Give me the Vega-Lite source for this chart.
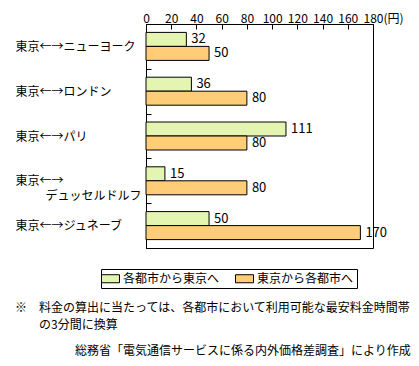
{
  "$schema": "https://vega.github.io/schema/vega-lite/v6.json",
  "width": 227,
  "height": 224,
  "autosize": "none",
  "padding": {"left": 146, "top": 24, "right": 46, "bottom": 118},
  "config": {
    "font": "Noto Sans CJK JP",
    "view": {"stroke": "black", "strokeWidth": 1},
    "axis": {"domainColor": "black", "tickColor": "black", "labelColor": "black", "labelFontSize": 12, "grid": false, "title": null}
  },
  "data": {
    "values": [
      {"city": "東京←→ニューヨーク", "series": "各都市から東京へ", "value": 32},
      {"city": "東京←→ニューヨーク", "series": "東京から各都市へ", "value": 50},
      {"city": "東京←→ロンドン", "series": "各都市から東京へ", "value": 36},
      {"city": "東京←→ロンドン", "series": "東京から各都市へ", "value": 80},
      {"city": "東京←→パリ", "series": "各都市から東京へ", "value": 111},
      {"city": "東京←→パリ", "series": "東京から各都市へ", "value": 80},
      {"city": "東京←→デュッセルドルフ", "series": "各都市から東京へ", "value": 15},
      {"city": "東京←→デュッセルドルフ", "series": "東京から各都市へ", "value": 80},
      {"city": "東京←→ジュネーブ", "series": "各都市から東京へ", "value": 50},
      {"city": "東京←→ジュネーブ", "series": "東京から各都市へ", "value": 170}
    ]
  },
  "encoding": {
    "y": {
      "field": "city", "type": "nominal",
      "sort": ["東京←→ニューヨーク", "東京←→ロンドン", "東京←→パリ", "東京←→デュッセルドルフ", "東京←→ジュネーブ"],
      "scale": {"paddingInner": 0, "paddingOuter": 0},
      "axis": {
        "orient": "left", "labelAlign": "left", "labelPadding": 136, "tickSize": -5, "tickBand": "extent",
        "labelLineHeight": 15, "labelBaseline": "middle",
        "labelExpr": "datum.value == '東京←→デュッセルドルフ' ? ['東京←→', '\u200b　　\u2002デュッセルドルフ'] : datum.label"
      }
    },
    "yOffset": {
      "field": "series", "type": "nominal",
      "sort": ["各都市から東京へ", "東京から各都市へ"],
      "scale": {"paddingInner": 0, "paddingOuter": 0.6}
    },
    "x": {
      "field": "value", "type": "quantitative",
      "scale": {"domain": [0, 180], "nice": false},
      "axis": {
        "orient": "top", "values": [0, 20, 40, 60, 80, 100, 120, 140, 160, 180], "tickSize": -5, "labelPadding": 4,
        "labelExpr": "datum.value == 180 ? '180(円)' : datum.label",
        "labelAlign": {"condition": {"test": "datum.value == 180", "value": "left"}, "value": "center"},
        "labelOffset": {"condition": {"test": "datum.value == 180", "value": -10}, "value": 0}
      }
    }
  },
  "layer": [
    {
      "mark": {"type": "bar", "stroke": "black", "strokeWidth": 1},
      "encoding": {
        "color": {
          "field": "series", "type": "nominal",
          "scale": {"domain": ["各都市から東京へ", "東京から各都市へ"], "range": ["#E4F5B2", "#FFCC77"]},
          "legend": {
            "title": null, "orient": "none", "direction": "horizontal", "legendX": -45, "legendY": 245,
            "strokeColor": "black", "padding": 3, "labelFontSize": 12, "labelColor": "black",
            "symbolType": "M-1.5,-0.67H1.5V0.67H-1.5Z", "symbolSize": 144, "symbolStrokeColor": "black", "symbolStrokeWidth": 1,
            "symbolOpacity": 1, "labelOffset": 6, "columnPadding": 13
          }
        }
      }
    },
    {
      "mark": {"type": "text", "align": "left", "baseline": "middle", "dx": 5, "fontSize": 13, "color": "black"},
      "encoding": {"text": {"field": "value", "type": "quantitative"}}
    }
  ],
  "title": {
    "text": ["※　料金の算出に当たっては、各都市において利用可能な最安料金時間帯", "\u200b　　の3分間に換算"],
    "subtitle": "\u200b　　　　　総務省「電気通信サービスに係る内外価格差調査」により作成",
    "orient": "bottom", "anchor": "start", "frame": "bounds", "align": "left",
    "fontSize": 12, "fontWeight": "normal", "lineHeight": 17, "color": "black",
    "subtitleFontSize": 12, "subtitleColor": "black", "subtitlePadding": 14, "offset": 14
  }
}
